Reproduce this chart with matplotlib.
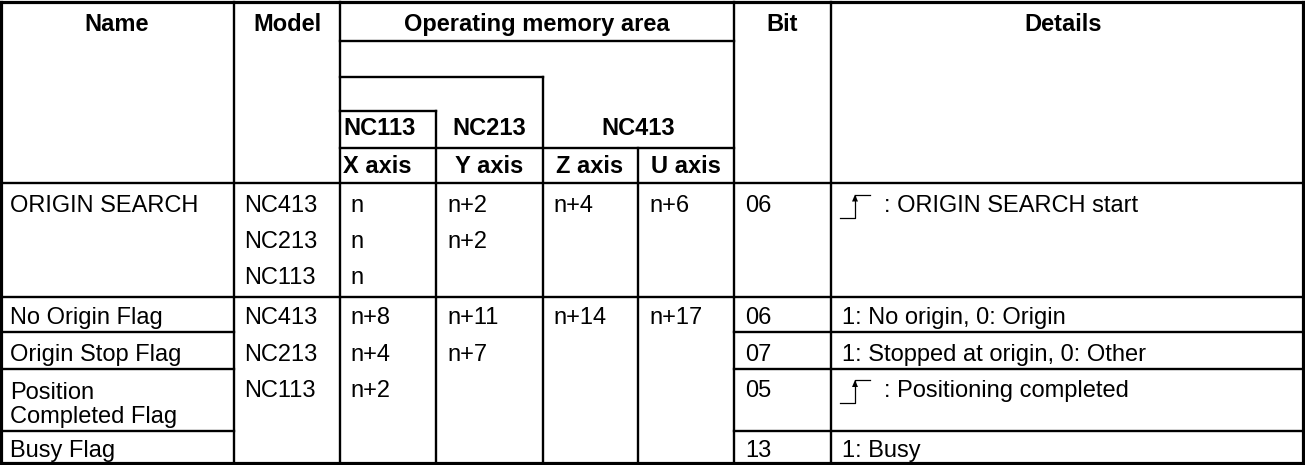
import matplotlib
matplotlib.use("Agg")
import matplotlib.pyplot as plt
from matplotlib.patches import Polygon

plt.rcParams['font.family'] = ['Liberation Sans', 'DejaVu Sans']

# table content
header_top = ["Name", "Model", "Operating memory area", "Bit", "Details"]
header_models = ["NC113", "NC213", "NC413"]
header_axes = ["X axis", "Y axis", "Z axis", "U axis"]

names = ["ORIGIN SEARCH", "No Origin Flag", "Origin Stop Flag",
         "Position\nCompleted Flag", "Busy Flag"]
models = ["NC413", "NC213", "NC113"]

search_addr = [["n", "n", "n"], ["n+2", "n+2"], ["n+4"], ["n+6"]]
flag_addr = [["n+8", "n+4", "n+2"], ["n+11", "n+7"], ["n+14"], ["n+17"]]

bits = ["06", "06", "07", "05", "13"]
details = [": ORIGIN SEARCH start", "1: No origin, 0: Origin",
           "1: Stopped at origin, 0: Other", ": Positioning completed", "1: Busy"]
rising_edge = [True, False, False, True, False]

# layout (pixel coords)
W, H = 1305, 465
fs = 17
lw = 1.7

fig = plt.figure(figsize=(W / 100, H / 100), dpi=100)
ax = fig.add_axes([0, 0, 1, 1])
ax.set_xlim(0, W)
ax.set_ylim(H, 0)
ax.axis('off')


def hline(x0, x1, y, w=lw):
    ax.plot([x0, x1], [y, y], color='black', lw=w, solid_capstyle='projecting')


def vline(x, y0, y1, w=lw):
    ax.plot([x, x], [y0, y1], color='black', lw=w, solid_capstyle='projecting')


# border
hline(1, 1303, 2, 2.3)
hline(1, 1303, 463, 2.3)
vline(1, 2, 463, 2.3)
vline(1303, 2, 463, 2.3)

# header grid
hline(340, 734, 41)
hline(340, 543, 77)
hline(340, 436, 111)
hline(340, 734, 148)
hline(1, 1303, 183)
hline(1, 1303, 297)
for y in [332, 369, 431]:
    hline(1, 234, y)
    hline(734, 1303, y)

vline(234, 2, 463)
vline(340, 2, 463)
vline(436, 111, 463)
vline(543, 77, 463)
vline(638, 148, 463)
vline(734, 2, 463)
vline(831, 2, 463)

# header text
bold = dict(fontsize=fs, fontweight='bold', va='baseline')
ax.text(117, 31, header_top[0], ha='center', **bold)
ax.text(287, 31, header_top[1], ha='center', **bold)
ax.text(537, 31, header_top[2], ha='center', **bold)
ax.text(782, 31, header_top[3], ha='center', **bold)
ax.text(1063, 31, header_top[4], ha='center', **bold)

ax.text(343, 135, header_models[0], ha='left', **bold)
ax.text(489, 135, header_models[1], ha='center', **bold)
ax.text(638, 135, header_models[2], ha='center', **bold)

ax.text(343, 173, header_axes[0], ha='left', **bold)
ax.text(489, 173, header_axes[1], ha='center', **bold)
ax.text(590, 173, header_axes[2], ha='center', **bold)
ax.text(686, 173, header_axes[3], ha='center', **bold)

norm = dict(fontsize=fs, va='baseline', ha='left')
addr_x = [350, 447, 553, 649]

# ORIGIN SEARCH block
blk1 = [211.5, 247.5, 284]
ax.text(10, blk1[0], names[0], **norm)
for i, m in enumerate(models):
    ax.text(244, blk1[i], m, **norm)
for c, col in enumerate(search_addr):
    for i, v in enumerate(col):
        ax.text(addr_x[c], blk1[i], v, **norm)

# flag block
blk2 = [324, 360.5, 397]
name_y = [324, 360.5, 423, 457]
for i in range(4):
    ax.text(10, name_y[i], names[i + 1], linespacing=1.1, **norm)
for i, m in enumerate(models):
    ax.text(244, blk2[i], m, **norm)
for c, col in enumerate(flag_addr):
    for i, v in enumerate(col):
        ax.text(addr_x[c], blk2[i], v, **norm)

# bit and details
row_y = [211.5, 324, 360.5, 397, 457]
for i in range(5):
    ax.text(745, row_y[i], bits[i], **norm)
    if rising_edge[i]:
        yb = row_y[i] + 6
        yt = row_y[i] - 17
        ax.plot([840, 855, 855, 870], [yb, yb, yt, yt], color='black', lw=0.9)
        ax.add_patch(Polygon([[852, yt + 7], [858, yt + 7], [855, yt]],
                             closed=True, color='black', lw=0))
        ax.text(884, row_y[i], details[i], **norm)
    else:
        ax.text(842, row_y[i], details[i], **norm)

fig.savefig("out.png", dpi=100)
